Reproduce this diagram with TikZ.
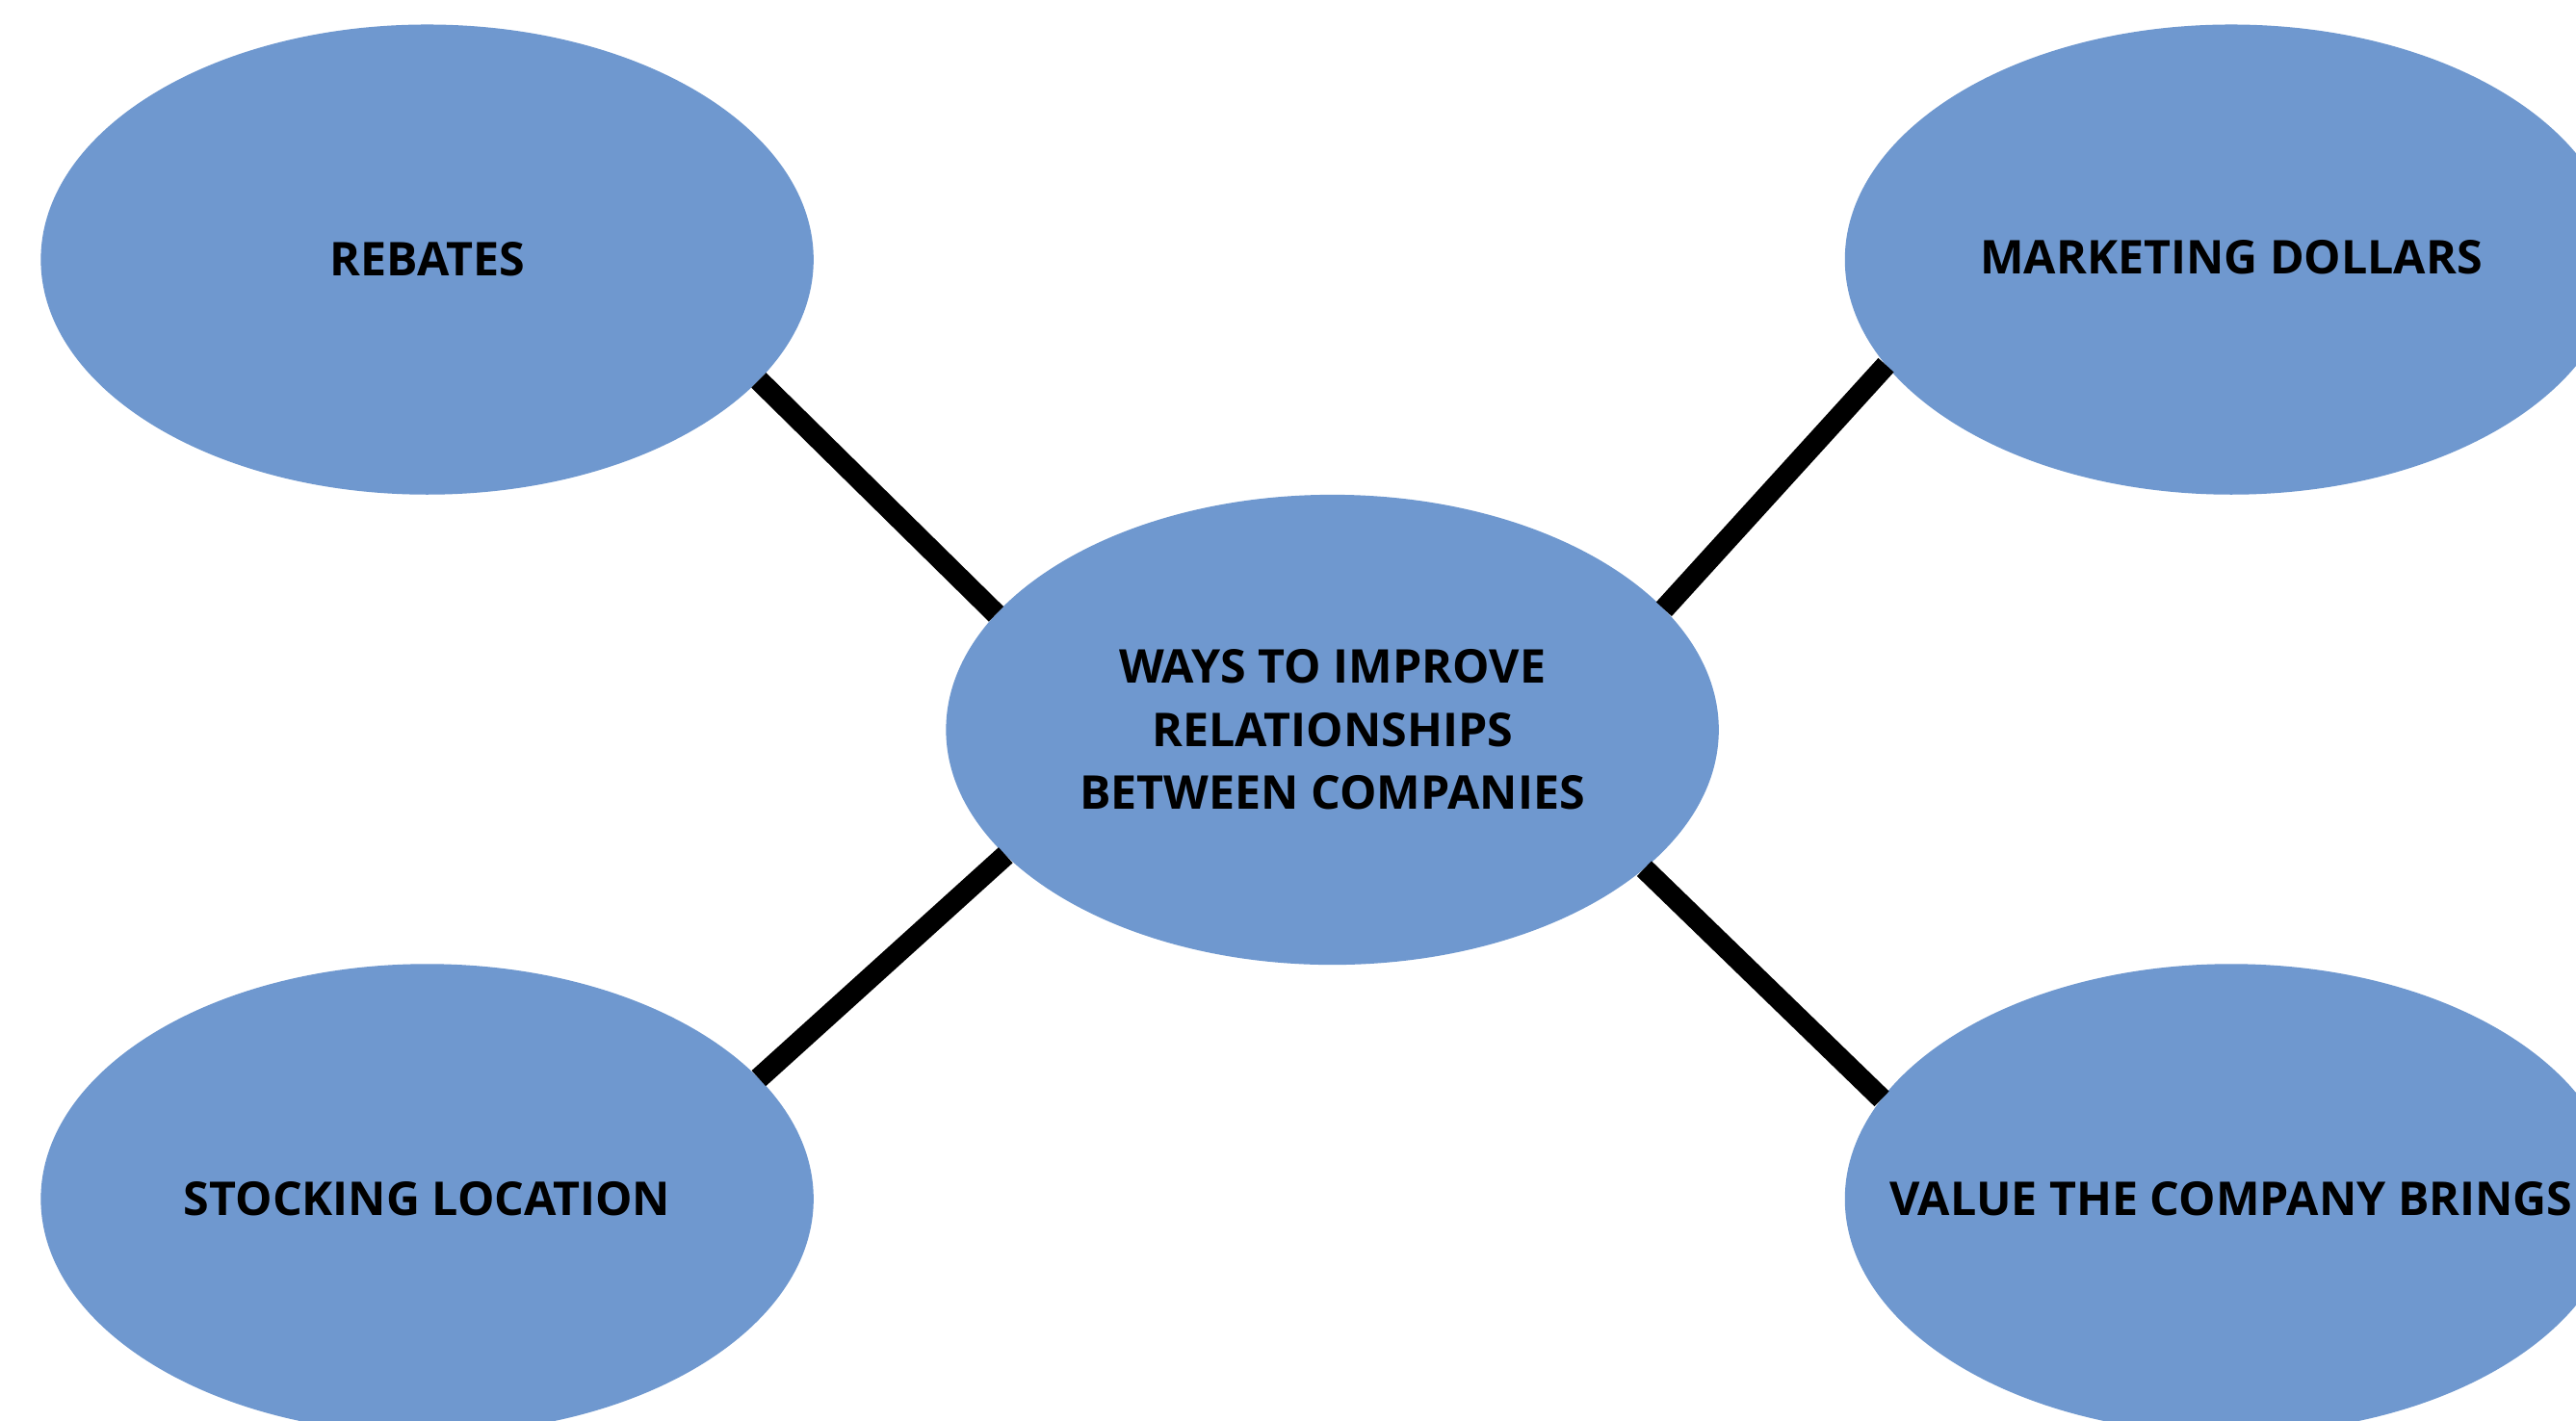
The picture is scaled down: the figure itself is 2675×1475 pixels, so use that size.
\documentclass[tikz,border=0pt]{standalone}
\usepackage{fontspec}
\setmainfont{Open Sans}
\usetikzlibrary{shapes.geometric}
\definecolor{bubble}{RGB}{111,152,207}
\tikzset{
  bubble/.style={ellipse, fill=bubble, draw=none, minimum width=8.02cm, minimum height=4.88cm,
    inner sep=0pt, outer sep=0pt, align=center,
    font=\fontsize{13.75pt}{18.6pt}\selectfont\bfseries},
  link/.style={line width=6.2pt, draw=black, line cap=butt}
}
\begin{document}
\begin{tikzpicture}[x=0.01cm,y=-0.01cm]
\clip (0,0) rectangle (2675,1475);
\fill[white] (0,0) rectangle (2675,1475);
\node[bubble] (rebates) at (443.6,269.6) {REBATES};
\node[bubble] (marketing) at (2317,269.6) {\raisebox{1.5pt}{MARKETING DOLLARS}};
\node[bubble] (center) at (1383.6,758) {WAYS TO IMPROVE\\RELATIONSHIPS\\BETWEEN COMPANIES};
\node[bubble] (stocking) at (443.6,1245.4) {STOCKING LOCATION};
\node[bubble] (value) at (2317,1245.4) {\makebox[0pt]{VALUE THE COMPANY BRINGS}};
\draw[link] (rebates.-20.6) -- (center.161.1);
\draw[link] (center.20.5) -- (marketing.-163.6);
\draw[link] (stocking.20.1) -- (center.-159.4);
\draw[link] (center.-24.6) -- (value.164.1);
\end{tikzpicture}
\end{document}
